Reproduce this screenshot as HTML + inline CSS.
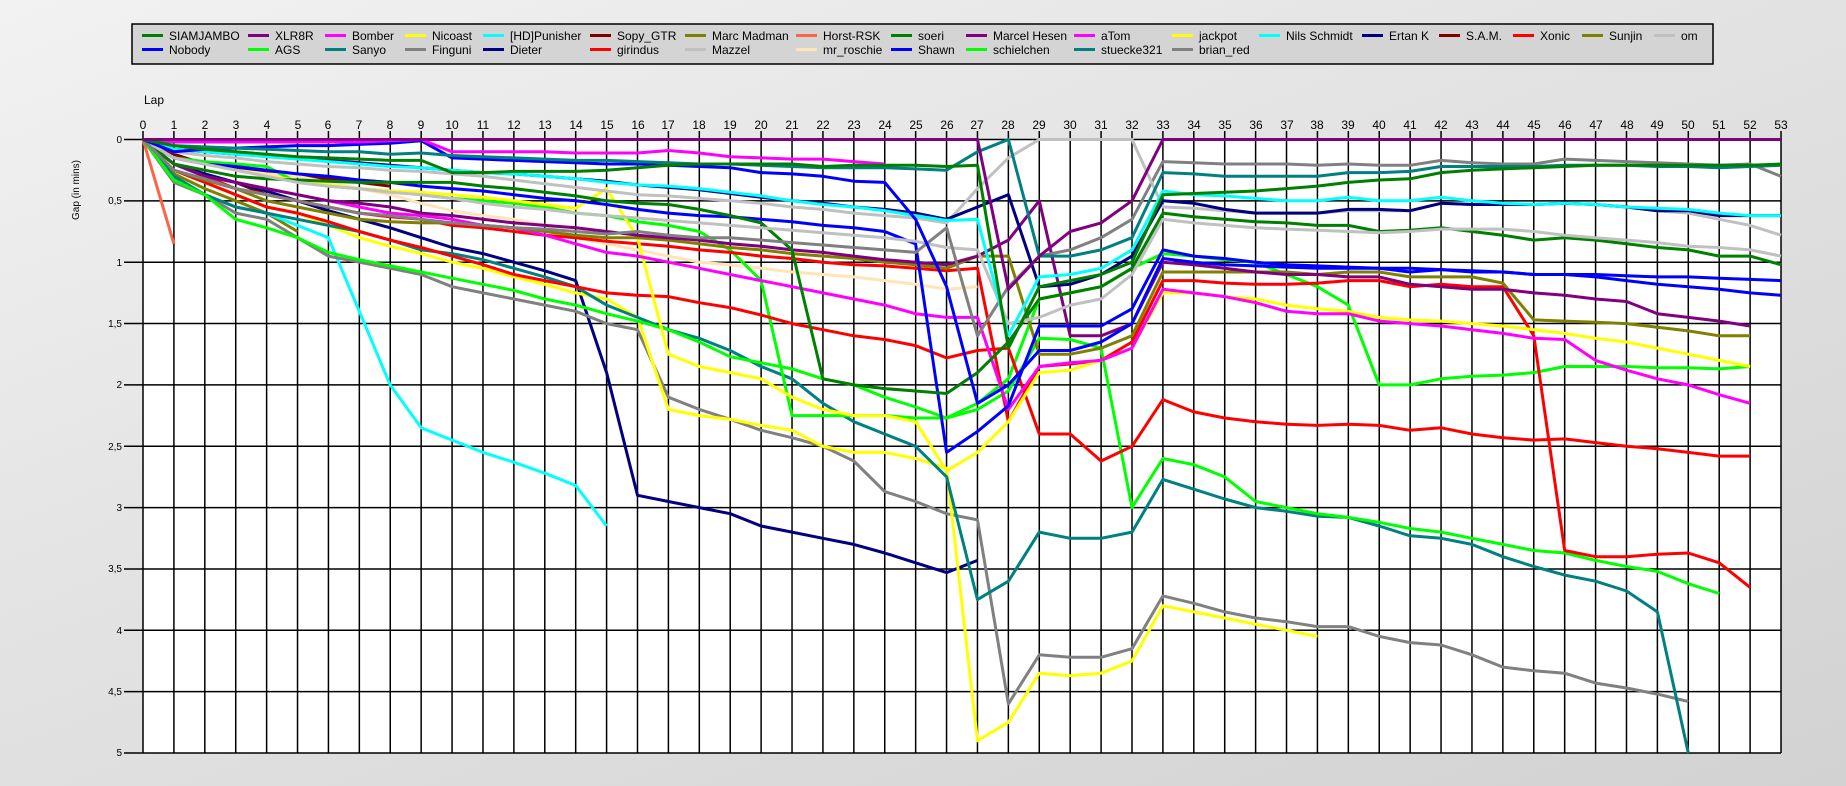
<!DOCTYPE html>
<html><head><meta charset="utf-8"><style>
html,body{margin:0;padding:0}
body{width:1846px;height:786px;overflow:hidden;background:linear-gradient(160deg,#f2f2f2 0%,#e4e4e4 40%,#d2d2d2 100%);font-family:"Liberation Sans",sans-serif}
svg{position:absolute;left:0;top:0}
</style></head><body>
<svg id="s" width="1846" height="786" xmlns="http://www.w3.org/2000/svg" font-family="Liberation Sans, sans-serif">
<rect x="132" y="24" width="1581" height="40" fill="#d4d4d4" stroke="#000" stroke-width="1.5"/>
<g id="leg" font-size="12" fill="#000">
<text x="169" y="40">SIAMJAMBO</text><text x="275" y="40">XLR8R</text><text x="352" y="40">Bomber</text><text x="432" y="40">Nicoast</text><text x="510" y="40">[HD]Punisher</text><text x="617" y="40">Sopy_GTR</text><text x="712" y="40">Marc Madman</text><text x="823" y="40">Horst-RSK</text><text x="918" y="40">soeri</text><text x="993" y="40">Marcel Hesen</text><text x="1101" y="40">aTom</text><text x="1199" y="40">jackpot</text><text x="1286" y="40">Nils Schmidt</text><text x="1389" y="40">Ertan K</text><text x="1466" y="40">S.A.M.</text><text x="1540" y="40">Xonic</text><text x="1609" y="40">Sunjin</text><text x="1681" y="40">om</text>
<text x="169" y="54">Nobody</text><text x="275" y="54">AGS</text><text x="352" y="54">Sanyo</text><text x="432" y="54">Finguni</text><text x="510" y="54">Dieter</text><text x="617" y="54">girindus</text><text x="712" y="54">Mazzel</text><text x="823" y="54">mr_roschie</text><text x="918" y="54">Shawn</text><text x="993" y="54">schielchen</text><text x="1101" y="54">stuecke321</text><text x="1199" y="54">brian_red</text>
</g>
<g id="legsw"></g>
<rect x="143" y="139.5" width="1638" height="613.5" fill="#fff"/>
<g id="grid" stroke="#000" stroke-width="1.5"></g>
<text x="144" y="104" font-size="12">Lap</text>
<g font-size="12" text-anchor="middle">
<text x="143" y="129">0</text><text x="174" y="129">1</text><text x="205" y="129">2</text><text x="236" y="129">3</text><text x="267" y="129">4</text><text x="298" y="129">5</text><text x="328" y="129">6</text><text x="359" y="129">7</text><text x="390" y="129">8</text><text x="421" y="129">9</text><text x="452" y="129">10</text><text x="483" y="129">11</text><text x="514" y="129">12</text><text x="545" y="129">13</text><text x="576" y="129">14</text><text x="607" y="129">15</text><text x="638" y="129">16</text><text x="668" y="129">17</text><text x="699" y="129">18</text><text x="730" y="129">19</text><text x="761" y="129">20</text><text x="792" y="129">21</text><text x="823" y="129">22</text><text x="854" y="129">23</text><text x="885" y="129">24</text><text x="916" y="129">25</text><text x="947" y="129">26</text><text x="977" y="129">27</text><text x="1008" y="129">28</text><text x="1039" y="129">29</text><text x="1070" y="129">30</text><text x="1101" y="129">31</text><text x="1132" y="129">32</text><text x="1163" y="129">33</text><text x="1194" y="129">34</text><text x="1225" y="129">35</text><text x="1256" y="129">36</text><text x="1287" y="129">37</text><text x="1317" y="129">38</text><text x="1348" y="129">39</text><text x="1379" y="129">40</text><text x="1410" y="129">41</text><text x="1441" y="129">42</text><text x="1472" y="129">43</text><text x="1503" y="129">44</text><text x="1534" y="129">45</text><text x="1565" y="129">46</text><text x="1596" y="129">47</text><text x="1627" y="129">48</text><text x="1657" y="129">49</text><text x="1688" y="129">50</text><text x="1719" y="129">51</text><text x="1750" y="129">52</text><text x="1781" y="129">53</text>
</g>
<g font-size="10" text-anchor="end">
<text x="122" y="143">0</text><text x="122" y="204">0,5</text><text x="122" y="266">1</text><text x="122" y="327">1,5</text><text x="122" y="388">2</text><text x="122" y="450">2,5</text><text x="122" y="511">3</text><text x="122" y="572">3,5</text><text x="122" y="634">4</text><text x="122" y="695">4,5</text><text x="122" y="756">5</text>
</g>
<text x="79" y="190" font-size="10" text-anchor="middle" transform="rotate(-90 79 190)">Gap (in mins)</text>
<g id="lines" fill="none" stroke-width="3" stroke-linejoin="round"></g>
</svg>
<script>
var NS="http://www.w3.org/2000/svg";
function X(l){return 143+30.906*l}
function Y(v){return 139.5+v*122.7}
function el(p,t,a){var e=document.createElementNS(NS,t);for(var k in a)e.setAttribute(k,a[k]);p.appendChild(e);return e}
var g=document.getElementById('grid');
for(var i=0;i<=53;i++){el(g,'line',{x1:X(i),x2:X(i),y1:131,y2:753})}
for(var j=0;j<=10;j++){el(g,'line',{x1:124,x2:1781,y1:Y(j/2),y2:Y(j/2)})}
var legx=[142,248,325,405,483,590,685,796,891,966,1074,1172,1259,1362,1439,1513,1582,1654];
var c1=['#008000','#800080','#ff00ff','#ffff00','#00ffff','#800000','#808000','#ff6347','#008000','#800080','#ff00ff','#ffff00','#00ffff','#000080','#800000','#ff0000','#808000','#c0c0c0'];
var c2=['#0000ff','#00ff00','#008080','#808080','#000080','#ff0000','#c0c0c0','#ffe4b5','#0000ff','#00ff00','#008080','#808080'];
var ls=document.getElementById('legsw');
c1.forEach(function(c,i){el(ls,'rect',{x:legx[i],y:34,width:21,height:3,fill:c})});
c2.forEach(function(c,i){el(ls,'rect',{x:legx[i],y:48,width:21,height:3,fill:c})});
var S=[
['#ff6347',[0,.85]],
['#800000',[0,.12,.2,.23,.26,.3,.32,.35,.38]],
['#800000',[0,.2,.28,.35,.45,.5]],
['#808000',[0,.28,.4,.5,.6,.75]],
['#00ffff',[0,.3,.45,.55,.6,.7,.8,1.4,2.0,2.35,2.45,2.55,2.63,2.72,2.82,3.15]],
['#000080',[0,.2,.28,.35,.42,.5,.58,.65,.72,.8,.88,.93,1.0,1.07,1.15,1.9,2.9,2.95,3.0,3.05,3.15,3.2,3.25,3.3,3.37,3.45,3.53,3.43]],
['#ffe4b5',[0,.15,.2,.25,.28,.3,.35,.4,.45,.52,.58,.62,.65,.7,.8,.85,.9,.95,1.0,1.02,1.05,1.08,1.1,1.12,1.15,1.18,1.22,1.2]],
['#808080',[0,.35,.45,.6,.65,.8,.95,1.0,1.05,1.1,1.2,1.25,1.3,1.35,1.4,1.5,1.55,2.1,2.2,2.28,2.37,2.43,2.5,2.62,2.87,2.95,3.05,3.1,4.6,4.2,4.22,4.22,4.15,3.72,3.78,3.85,3.9,3.93,3.97,3.97,4.05,4.1,4.12,4.2,4.3,4.33,4.35,4.43,4.47,4.52,4.58]],
['#ffff00',[0,.25,.35,.45,.55,.6,.7,.8,.87,.93,1.0,1.05,1.12,1.18,1.25,1.3,1.45,2.2,2.25,2.28,2.33,2.37,2.5,2.55,2.55,2.6,2.68,4.9,4.75,4.35,4.37,4.35,4.25,3.8,3.85,3.9,3.95,4.0,4.05]],
['#008080',[0,.3,.45,.55,.6,.65,.7,.75,.82,.9,.93,.98,1.05,1.12,1.2,1.35,1.45,1.55,1.62,1.72,1.85,1.95,2.15,2.3,2.4,2.5,2.75,3.75,3.6,3.2,3.25,3.25,3.2,2.77,2.85,2.93,3.0,3.03,3.07,3.08,3.15,3.23,3.25,3.3,3.4,3.48,3.55,3.6,3.68,3.85,5.0]],
['#00ff00',[0,.33,.45,.65,.72,.8,.92,.98,1.03,1.08,1.13,1.18,1.23,1.3,1.35,1.42,1.48,1.55,1.65,1.77,1.82,1.87,1.95,2.0,2.1,2.18,2.27,2.2,2.05,1.62,1.63,1.7,3.0,2.6,2.65,2.75,2.95,3.0,3.05,3.08,3.12,3.17,3.2,3.25,3.3,3.35,3.37,3.43,3.48,3.52,3.62,3.7]],
['#00ff00',[0,.15,.18,.2,.22,.35,.38,.4,.42,.45,.48,.5,.52,.55,.6,.62,.67,.7,.75,.9,1.15,2.25,2.25,2.25,2.25,2.27,2.27,2.15,1.95,1.3,1.25,1.2,1.05,.93,.95,.98,1.0,1.1,1.2,1.35,2.0,2.0,1.95,1.93,1.92,1.9,1.85,1.85,1.85,1.86,1.86,1.87,1.85]],
['#ff0000',[0,.25,.35,.45,.55,.6,.67,.75,.82,.88,.95,1.02,1.1,1.15,1.2,1.25,1.27,1.28,1.33,1.37,1.43,1.5,1.55,1.6,1.63,1.68,1.78,1.72,1.7,2.4,2.4,2.62,2.5,2.12,2.22,2.27,2.3,2.32,2.33,2.32,2.33,2.37,2.35,2.4,2.43,2.45,2.44,2.47,2.5,2.52,2.55,2.58,2.58]],
['#ff0000',[0,.2,.3,.4,.45,.5,.55,.6,.63,.65,.7,.72,.75,.78,.8,.83,.85,.87,.9,.92,.95,.97,1.0,1.02,1.03,1.05,1.07,1.05,2.3,1.85,1.83,1.8,1.65,1.15,1.15,1.17,1.18,1.18,1.17,1.15,1.15,1.2,1.18,1.2,1.2,1.6,3.35,3.4,3.4,3.38,3.37,3.45,3.65]],
['#ffff00',[0,.15,.2,.25,.3,.33,.37,.4,.42,.43,.45,.47,.5,.53,.56,.4,.8,1.75,1.85,1.9,1.95,2.1,2.2,2.25,2.25,2.3,2.7,2.55,2.3,1.9,1.88,1.8,1.7,1.25,1.25,1.28,1.3,1.35,1.38,1.4,1.45,1.47,1.48,1.5,1.52,1.55,1.58,1.62,1.65,1.7,1.75,1.8,1.85]],
['#ff00ff',[0,.2,.3,.35,.4,.45,.5,.55,.6,.62,.65,.7,.72,.78,.85,.92,.95,1.0,1.05,1.1,1.15,1.2,1.25,1.3,1.35,1.42,1.45,1.45,2.2,1.85,1.82,1.8,1.7,1.22,1.25,1.28,1.33,1.4,1.42,1.42,1.48,1.5,1.52,1.55,1.58,1.62,1.63,1.8,1.88,1.95,2.0,2.08,2.15]],
['#808000',[0,.25,.33,.4,.5,.55,.6,.65,.67,.68,.68,.7,.72,.75,.78,.8,.8,.82,.85,.88,.9,.93,.95,.97,1.0,1.02,1.05,.95,.95,1.75,1.75,1.7,1.6,1.08,1.08,1.08,1.08,1.08,1.1,1.08,1.08,1.12,1.12,1.12,1.17,1.47,1.48,1.49,1.5,1.53,1.56,1.6,1.6]],
['#800080',[0,.2,.3,.35,.4,.45,.5,.52,.55,.6,.62,.65,.68,.7,.72,.75,.78,.8,.82,.85,.87,.9,.92,.95,.98,1.0,1.02,.95,.82,.5,1.6,1.6,1.5,1.0,1.02,1.05,1.08,1.1,1.1,1.12,1.12,1.18,1.2,1.22,1.22,1.25,1.27,1.3,1.32,1.42,1.45,1.48,1.52]],
['#0000ff',[0,.15,.2,.22,.25,.28,.3,.33,.35,.38,.4,.42,.45,.48,.5,.53,.57,.6,.62,.63,.65,.67,.7,.72,.75,.85,1.2,2.55? 0:0]],
['#008000',[0,.2,.25,.3,.32,.33,.34,.35,.35,.35,.35,.38,.4,.43,.46,.5,.52,.53,.57,.62,.68,.9,1.95,2.0,2.03,2.05,2.07,1.9,1.65,1.3,1.25,1.2,1.05,.6,.63,.65,.67,.68,.7,.7,.75,.74,.72,.75,.78,.82,.8,.82,.85,.88,.9,.95,.95,1.02]],
['#c0c0c0',[0,.15,.2,.25,.3,.35,.38,.4,.43,.45,.48,.52,.55,.57,.6,.62,.64,.66,.68,.7,.72,.74,.76,.78,.8,.83,.88,.9,1.5,1.45,1.35,1.3,1.1,.65,.68,.7,.72,.73,.74,.75,.76,.75,.73,.73,.73,.75,.78,.8,.82,.84,.87,.88,.9,.95]],
['#808080',[0,.25,.32,.4,.45,.5,.55,.6,.62,.65,.68,.7,.72,.73,.75,.77,.75,.78,.8,.8,.82,.84,.86,.88,.9,.92,.72,1.6,1.2,.95,.9,.8,.65,.18,.19,.2,.2,.2,.21,.2,.21,.21,.17,.19,.2,.2,.16,.17,.18,.19,.2,.21,.2,.3]],
['#c0c0c0',[0,.1,.13,.15,.18,.2,.22,.23,.25,.26,.28,.3,.33,.36,.39,.42,.45,.46,.48,.5,.52,.55,.57,.6,.62,.64,.68,.4,.15,0,0,0,0,.55,.56,.58,.6,.6,.6,.58,.58,.58,.52,.53,.53,.53,.52,.53,.55,.58,.6,.65,.7,.78]],
['#000080',[0,.08,.1,.12,.13,.15,.17,.19,.21,.23,.25,.27,.28,.3,.32,.34,.37,.39,.41,.44,.47,.5,.52,.55,.57,.6,.65,.55,.45,1.2,1.18,1.1,.95,.5,.52,.57,.6,.6,.6,.57,.57,.58,.52,.53,.53,.53,.52,.53,.55,.58,.58,.62,.62,.62]],
['#00ffff',[0,.08,.1,.12,.14,.16,.18,.2,.22,.23,.25,.27,.28,.3,.32,.35,.37,.38,.4,.43,.46,.5,.53,.55,.58,.62,.66,.65,1.6,1.12,1.1,1.05,.9,.42,.45,.46,.48,.5,.5,.47,.5,.5,.47,.5,.52,.53,.52,.53,.55,.56,.57,.6,.62,.62]],
['#0000ff',[0,.1,.08,.07,.06,.05,.05,.04,.03,.01,.15,.16,.17,.18,.19,.2,.2,.21,.22,.23,.27,.28,.3,.34,.35,.65,1.2,2.15,2.0,1.72,1.72,1.65,1.5,.97,1.0,1.02,1.03,1.04,1.05,1.05,1.05,1.08,1.06,1.08,1.08,1.1,1.1,1.12,1.15,1.18,1.2,1.22,1.25,1.27]],
['#ff00ff',[0,.02,.02,.02,.02,.02,.02,.02,.01,0,.1,.1,.1,.1,.11,.11,.11,.09,.11,.14,.15,.16,.16,.18,.2]],
['#008080',[0,.05,.06,.07,.08,.09,.1,.1,.12,.11,.13,.14,.15,.16,.17,.17,.18,.19,.2,.2,.21,.22,.23,.23,.23,.24,.25,.1,0,.95,.95,.9,.8,.27,.28,.3,.3,.3,.3,.27,.27,.26,.22,.22,.22,.22,.21,.21,.21,.22,.22,.23,.22,.21]],
['#008000',[0,.05,.08,.1,.12,.14,.15,.16,.17,.17,.27,.27,.26,.26,.26,.25,.23,.21,.2,.2,.2,.2,.22,.21,.21,.21,.22,.21,1.7,1.2,1.15,1.1,1.0,.45,.44,.43,.42,.4,.38,.35,.33,.32,.27,.25,.24,.23,.22,.21,.21,.21,.21,.21,.21,.2]],
['#800080',[0,0,0,0,0,0,0,0,0,0,0,0,0,0,0,0,0,0,0,0,0,0,0,0,0,0,0,0,1.22,.95,.75,.68,.5,0,0,0,0,0,0,0,0,0,0,0,0,0,0,0,0,0,0,0,0,0]]
];
// fix Shawn
S[18]=['#0000ff',[0,.15,.2,.22,.25,.28,.3,.33,.35,.38,.4,.42,.45,.48,.5,.53,.57,.6,.62,.63,.65,.67,.7,.72,.75,.85,2.55,2.38,2.17,1.52,1.52,1.52,1.38,.9,.95,.97,1.0,1.02,1.03,1.04,1.05,1.05,1.06,1.07,1.08,1.1,1.1,1.1,1.11,1.12,1.12,1.13,1.14,1.15]];
var L=document.getElementById('lines');
S.forEach(function(s){var p=s[1].map(function(v,i){return X(i).toFixed(1)+','+Y(v).toFixed(1)}).join(' ');el(L,'polyline',{points:p,stroke:s[0]})});
</script>
</body></html>
